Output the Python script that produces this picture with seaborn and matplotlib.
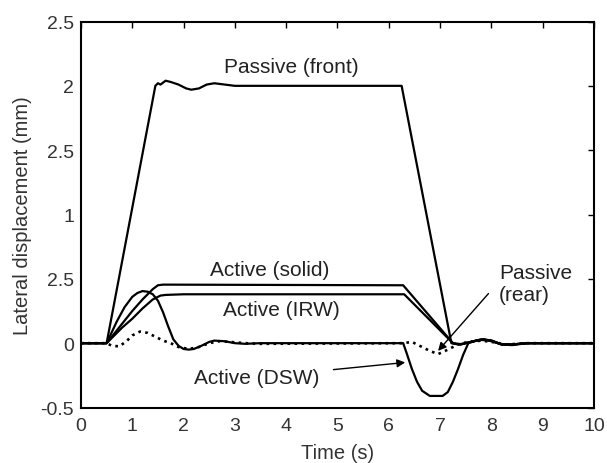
import matplotlib
matplotlib.use("Agg")
import matplotlib.pyplot as plt
import seaborn as sns
import pandas as pd

# ---- data ----
front_t = [0, 0.5, 1.45, 1.5, 1.55, 1.65, 1.75, 1.9, 2.05, 2.15, 2.3, 2.45, 2.6, 2.8, 3.0, 4.5, 5.0, 6.25,
           7.22, 7.35, 7.5, 7.7, 7.85, 8.0, 8.2, 8.4, 8.7, 10]
front_y = [0, 0, 2.0, 2.02, 2.01, 2.04, 2.03, 2.01, 1.98, 1.97, 1.98, 2.01, 2.02, 2.01, 2.0, 2.0, 2.0, 2.0,
           0.0, -0.01, 0.0, 0.02, 0.03, 0.02, -0.01, -0.015, 0.0, 0.0]

solid_t = [0, 0.5, 0.8, 1.0, 1.2, 1.4, 1.5, 1.6, 6.28, 7.25, 7.4, 7.6, 7.8, 8.0, 8.2, 8.4, 8.7, 10]
solid_y = [0, 0, 0.15, 0.25, 0.34, 0.42, 0.45, 0.455, 0.45, 0.0, -0.01, 0.01, 0.03, 0.02, -0.01, -0.01, 0.0, 0.0]

irw_t = [0, 0.5, 0.8, 1.0, 1.2, 1.4, 1.55, 1.65, 2.0, 6.3, 7.25, 7.4, 7.6, 7.8, 8.0, 8.2, 8.4, 8.7, 10]
irw_y = [0, 0, 0.12, 0.19, 0.27, 0.34, 0.37, 0.375, 0.38, 0.38, 0.0, -0.01, 0.01, 0.025, 0.02, -0.01, -0.01, 0.0, 0.0]

dsw_t = [0, 0.5, 0.7, 0.85, 1.0, 1.1, 1.2, 1.3, 1.4, 1.5, 1.6, 1.7, 1.8, 1.9, 2.0, 2.1, 2.2, 2.35, 2.5, 2.6,
         2.8, 3.0, 3.2, 3.5, 6.28, 6.35, 6.45, 6.55, 6.65, 6.8, 7.05, 7.15, 7.25, 7.35, 7.45, 7.55, 7.7, 7.85,
         8.0, 8.2, 8.4, 8.7, 10]
dsw_y = [0, 0, 0.17, 0.28, 0.36, 0.39, 0.405, 0.40, 0.38, 0.33, 0.24, 0.13, 0.03, -0.02, -0.045, -0.05, -0.045,
         -0.02, 0.01, 0.02, 0.015, 0.0, -0.005, 0.0, 0.0, -0.08, -0.2, -0.3, -0.37, -0.41, -0.41, -0.38, -0.3,
         -0.2, -0.09, 0.0, 0.02, 0.03, 0.015, -0.01, -0.01, 0.0, 0.0]

rear_t = [0, 0.5, 0.6, 0.75, 0.9, 1.0, 1.15, 1.3, 1.45, 1.6, 1.75, 1.9, 2.1, 2.3, 2.5, 2.7, 2.9, 3.2, 3.5,
          6.28, 6.45, 6.6, 6.8, 6.96, 7.1, 7.25, 7.4, 7.6, 7.8, 8.0, 8.3, 8.7, 10]
rear_y = [0, 0, -0.02, -0.025, 0.02, 0.06, 0.09, 0.08, 0.05, 0.02, 0.0, -0.03, -0.045, -0.03, 0.0, 0.015,
          0.01, 0.0, -0.005, 0.0, 0.01, -0.02, -0.06, -0.085, -0.06, -0.03, 0.0, 0.01, 0.02, 0.01, -0.01, 0.0, 0.0]

xticks = [0, 1, 2, 3, 4, 5, 6, 7, 8, 9, 10]
yticks = [-0.5, 0, 0.5, 1, 1.5, 2, 2.5]
ytick_labels = ["-0.5", "0", "2.5", "1", "2.5", "2", "2.5"]

sns.set_style("white")
plt.rcParams["font.family"] = ["Liberation Sans", "DejaVu Sans"]

fig = plt.figure(figsize=(6.07, 4.64), dpi=100)
ax = fig.add_axes([0.1334, 0.1196, 0.9786 - 0.1334, 0.9515 - 0.1196])

lw = 1.6
for t, y, ls in [(front_t, front_y, "-"), (solid_t, solid_y, "-"), (irw_t, irw_y, "-"),
                 (dsw_t, dsw_y, "-"), (rear_t, rear_y, ":")]:
    df = pd.DataFrame({"t": t, "y": y})
    sns.lineplot(data=df, x="t", y="y", ax=ax, color="black", linewidth=lw if ls == "-" else 1.9,
                 linestyle=ls, estimator=None, sort=False)

ax.set_xlim(0, 10)
ax.set_ylim(-0.5, 2.5)
ax.set_xticks(xticks)
ax.set_yticks(yticks)
ax.set_yticklabels(ytick_labels)
ax.tick_params(direction="in", length=4, width=1, top=True, right=True, labelsize=14,
               colors="black", labelcolor="#333333")
ax.tick_params(axis="x", pad=7)
ax.tick_params(axis="y", pad=5)
for s in ax.spines.values():
    s.set_linewidth(1.5)
    s.set_color("black")

ax.set_xlabel("Time (s)", fontsize=14.5, color="#333333", labelpad=6)
ax.set_ylabel("Lateral displacement (mm)", fontsize=14.5, color="#333333", labelpad=6)

tc = "#222222"
fs = 15
ax.text(4.1, 2.15, "Passive (front)", fontsize=fs, ha="center", va="center", color=tc)
ax.text(3.67, 0.57, "Active (solid)", fontsize=fs, ha="center", va="center", color=tc)
ax.text(3.9, 0.26, "Active (IRW)", fontsize=fs, ha="center", va="center", color=tc)
ax.annotate("Active (DSW)", xy=(6.32, -0.15), xytext=(3.42, -0.265), fontsize=fs,
            ha="center", va="center", color=tc,
            arrowprops=dict(arrowstyle="-|>", color="black", lw=1, shrinkA=8, shrinkB=0,
                            mutation_scale=12))
ax.annotate("Passive\n(rear)", xy=(6.96, -0.06), xytext=(8.15, 0.464), fontsize=fs,
            ha="left", va="center", color=tc, linespacing=1.15,
            arrowprops=dict(arrowstyle="-|>", color="black", lw=1, shrinkA=8, shrinkB=0,
                            mutation_scale=12, relpos=(0, 0.55)))

fig.savefig("out.png", dpi=100, facecolor="white")
